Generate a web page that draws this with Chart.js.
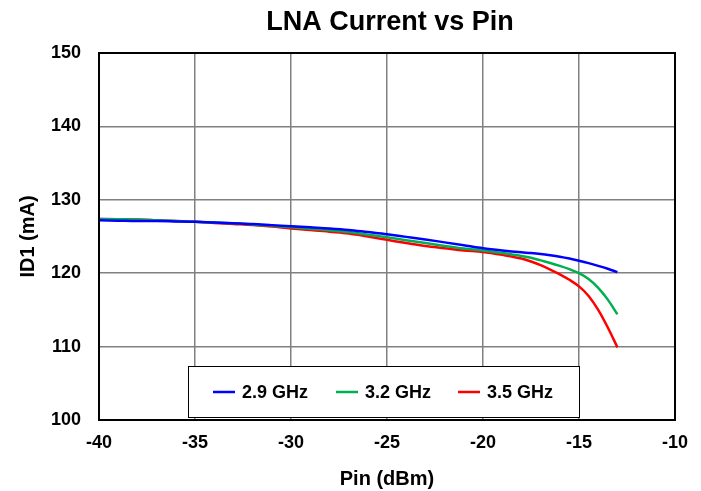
<!DOCTYPE html>
<html>
<head>
<meta charset="utf-8">
<script src="https://cdn.jsdelivr.net/npm/chart.js@4.4.1/dist/chart.umd.min.js"></script>
<style>
  html, body { margin: 0; padding: 0; background: #fff; }
  #wrap { width: 701px; height: 491px; }
</style>
</head>
<body>
<div id="wrap"><canvas id="chart" width="701" height="491"></canvas></div>
<script>
// Data
const pinValues = [-40, -39, -38, -37, -36, -35, -34, -33, -32, -31, -30, -29, -28, -27,
  -26, -25, -24, -23, -22, -21, -20, -19, -18, -17.5, -17, -16.5, -16, -15.5, -15, -14.5, -14, -13.5, -13];
const id1_29 = [127.2, 127.15, 127.1, 127.1, 127.05, 127.0, 126.9, 126.8, 126.7, 126.55, 126.4, 126.25, 126.1, 125.9,
  125.6, 125.3, 124.95, 124.6, 124.2, 123.8, 123.4, 123.1, 122.85, 122.75, 122.62, 122.45, 122.25, 122.0, 121.7, 121.37, 121.0, 120.6, 120.15];
const id1_32 = [127.4, 127.35, 127.3, 127.2, 127.1, 127.0, 126.9, 126.8, 126.65, 126.45, 126.25, 126.05, 125.85, 125.6,
  125.25, 124.9, 124.5, 124.1, 123.7, 123.35, 123.1, 122.75, 122.35, 122.1, 121.75, 121.4, 121.0, 120.55, 120.0, 119.2, 118.0, 116.4, 114.4];
const id1_35 = [127.4, 127.35, 127.3, 127.2, 127.1, 127.0, 126.85, 126.7, 126.55, 126.35, 126.1, 125.9, 125.65, 125.4,
  125.0, 124.55, 124.1, 123.7, 123.4, 123.1, 122.9, 122.5, 122.0, 121.6, 121.1, 120.5, 119.85, 119.1, 118.2, 116.9, 115.0, 112.6, 109.9];
const seriesLabels = ["2.9 GHz", "3.2 GHz", "3.5 GHz"];
const seriesColors = ["#0000FF", "#00B050", "#FF0000"];
const xTicks = [-40, -35, -30, -25, -20, -15, -10];
const yTicks = [100, 110, 120, 130, 140, 150];

const FONT = "Arial, 'Liberation Sans', sans-serif";

function toPoints(ys) {
  return pinValues.map((x, i) => ({ x: x, y: ys[i] }));
}

const datasets = [id1_29, id1_32, id1_35].map((ys, i) => ({
  label: seriesLabels[i],
  data: toPoints(ys),
  borderColor: seriesColors[i],
  backgroundColor: seriesColors[i],
  borderWidth: 2.5,
  pointRadius: 0,
  cubicInterpolationMode: "monotone",
  fill: false
}));

// Judul, bingkai dan legenda digambar sendiri
const extras = {
  id: "extras",
  afterDraw(chart) {
    const ctx = chart.ctx;
    const a = chart.chartArea;
    ctx.save();
    // bingkai area plot
    ctx.strokeStyle = "#000";
    ctx.lineWidth = 2;
    ctx.strokeRect(a.left, a.top, a.right - a.left, a.bottom - a.top);

    // judul
    ctx.fillStyle = "#000";
    ctx.font = "bold 27px " + FONT;
    ctx.textAlign = "center";
    ctx.textBaseline = "middle";
    ctx.fillText("LNA Current vs Pin", (a.left + a.right) / 2 + 3, 23);

    // legenda di dalam plot
    const bx = 188, by = 366, bw = 391, bh = 51;
    ctx.fillStyle = "#fff";
    ctx.fillRect(bx, by, bw, bh);
    ctx.strokeStyle = "#000";
    ctx.lineWidth = 1;
    ctx.strokeRect(bx + 0.5, by + 0.5, bw, bh);
    const itemX = [213, 336, 458];
    ctx.font = "bold 18px " + FONT;
    ctx.textAlign = "left";
    chart.data.datasets.forEach((ds, i) => {
      const cy = by + 26;
      ctx.strokeStyle = ds.borderColor;
      ctx.lineWidth = 2.5;
      ctx.beginPath();
      ctx.moveTo(itemX[i], cy);
      ctx.lineTo(itemX[i] + 22, cy);
      ctx.stroke();
      ctx.fillStyle = "#000";
      ctx.fillText(ds.label, itemX[i] + 29, cy + 1);
    });
    ctx.restore();
  }
};

new Chart(document.getElementById("chart"), {
  type: "line",
  data: { datasets: datasets },
  plugins: [extras],
  options: {
    responsive: false,
    animation: false,
    layout: { padding: { top: 53, right: 26, left: 0, bottom: 0 } },
    plugins: {
      legend: { display: false },
      title: { display: false },
      tooltip: { enabled: false }
    },
    scales: {
      x: {
        type: "linear",
        min: -40,
        max: -10,
        afterBuildTicks: s => { s.ticks = xTicks.map(v => ({ value: v })); },
        afterFit: s => { s.height = 71; },
        grid: { color: "#808080", lineWidth: 1.5, drawTicks: false },
        border: { display: false },
        ticks: {
          padding: 12,
          color: "#000",
          font: { family: FONT, size: 18, weight: "bold" }
        },
        title: {
          display: true,
          text: "Pin (dBm)",
          color: "#000",
          padding: { top: 12, bottom: 0 },
          font: { family: FONT, size: 20, weight: "bold" }
        }
      },
      y: {
        min: 100,
        max: 150,
        afterBuildTicks: s => { s.ticks = yTicks.map(v => ({ value: v })); },
        afterFit: s => { s.width = 99; },
        grid: { color: "#808080", lineWidth: 1.5, drawTicks: false },
        border: { display: false },
        ticks: {
          padding: 18,
          color: "#000",
          font: { family: FONT, size: 18, weight: "bold" }
        },
        title: {
          display: true,
          text: "ID1 (mA)",
          color: "#000",
          padding: { top: 16, bottom: 0 },
          font: { family: FONT, size: 20, weight: "bold" }
        }
      }
    }
  }
});
</script>
</body>
</html>
